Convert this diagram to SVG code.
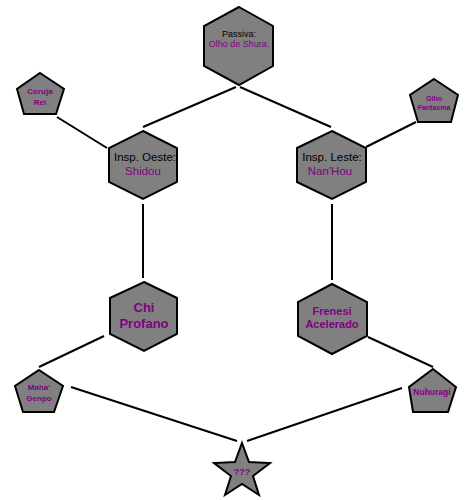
<svg xmlns="http://www.w3.org/2000/svg" width="475" height="500" viewBox="0 0 475 500">
<style>
.shape{fill:#808080;stroke:#000;stroke-width:2;stroke-linejoin:miter}
.conn line{stroke:#000;stroke-width:2}
text{font-family:"Liberation Sans",Arial,sans-serif;text-anchor:middle}
.k{fill:#000}
.p{fill:#800080}
.b{font-weight:bold}
</style>
<rect width="475" height="500" fill="#fff"/>
<g id="connectors" class="conn">
<line x1="236" y1="87" x2="143" y2="127"/>
<line x1="240" y1="87" x2="331" y2="127"/>
<line x1="57" y1="117" x2="107" y2="148"/>
<line x1="416" y1="122" x2="366" y2="147"/>
<line x1="143" y1="204" x2="143" y2="278"/>
<line x1="332" y1="204" x2="332" y2="280"/>
<line x1="104" y1="336" x2="39" y2="367"/>
<line x1="368" y1="337" x2="433" y2="367"/>
<line x1="71" y1="387" x2="237" y2="441"/>
<line x1="402" y1="388" x2="247" y2="441"/>
</g>
<g id="passiva">
<polygon class="shape" points="239,7 273,26 273,66 239,85 204,66 204,26"/>
<text x="239" y="37" font-size="9" class="k">Passiva:</text>
<text x="239" y="47" font-size="9" class="p">Olho de Shura.</text>
</g>
<g id="insp-oeste">
<polygon class="shape" points="143,131 177,148 177,182 143,199 109,182 109,148"/>
<text x="145" y="161" font-size="11.5" class="k">Insp. Oeste:</text>
<text x="143" y="175" font-size="11.5" class="p">Shidou</text>
</g>
<g id="insp-leste">
<polygon class="shape" points="332,131 366,148 366,182 332,199 297,182 297,148"/>
<text x="332" y="161" font-size="11.5" class="k">Insp. Leste:</text>
<text x="330" y="175" font-size="11.5" class="p">Nan'Hou</text>
</g>
<g id="coruja-rei">
<polygon class="shape" points="40,73 64,89 56,114 24,114 17,89"/>
<text x="40" y="94" font-size="8" class="p b">Coruja</text>
<text x="40" y="105" font-size="8" class="p b">Rei</text>
</g>
<g id="olho-fantasma">
<polygon class="shape" points="434,79 458,95 451,122 418,122 410,95"/>
<text x="434" y="101" font-size="7" class="p b">Olho</text>
<text x="434" y="110" font-size="7" class="p b">Fantasma</text>
</g>
<g id="chi-profano">
<polygon class="shape" points="144,282 177,298 177,334 144,351 110,334 110,298"/>
<text x="144" y="312" font-size="13" class="p b">Chi</text>
<text x="144" y="328" font-size="13" class="p b">Profano</text>
</g>
<g id="frenesi">
<polygon class="shape" points="332,284 367,302 367,336 332,354 298,336 298,302"/>
<text x="332" y="315" font-size="11" class="p b">Frenesi</text>
<text x="332" y="328" font-size="11" class="p b">Acelerado</text>
</g>
<g id="maha-genpo">
<polygon class="shape" points="39,370 63,386 54,412 23,412 15,386"/>
<text x="39" y="390" font-size="8" class="p b">Maha'</text>
<text x="39" y="401" font-size="8" class="p b">Genpo</text>
</g>
<g id="nuhuragi">
<polygon class="shape" points="433,369 456,387 448,412 413,412 409,387"/>
<text x="432" y="395" font-size="8.5" class="p b">Nuhuragi</text>
</g>
<g id="star">
<polygon class="shape" points="242,443 249,462 270,463 253,476 259,495 242,484 225,495 231,476 214,463 235,462"/>
<text x="242" y="475" font-size="9" class="p b">???</text>
</g>
</svg>
